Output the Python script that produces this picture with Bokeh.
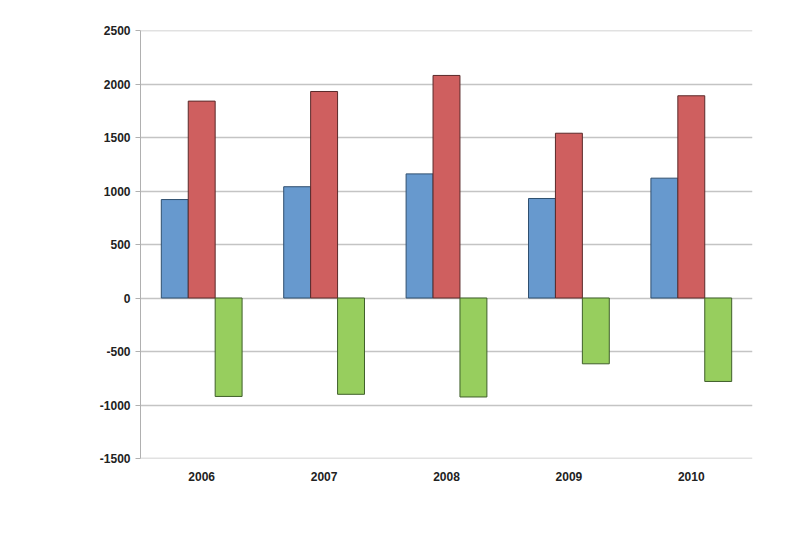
from bokeh.plotting import figure
from bokeh.models import ColumnDataSource, FactorRange, Range1d, FixedTicker, Span
from bokeh.transform import dodge
from bokeh.embed import file_html
from bokeh.resources import INLINE

years = ["2006", "2007", "2008", "2009", "2010"]
series_blue = [920, 1040, 1160, 930, 1120]
series_red = [1840, 1930, 2080, 1540, 1890]
series_green = [-920, -900, -925, -615, -780]
y_ticks = [-1500, -1000, -500, 0, 500, 1000, 1500, 2000, 2500]

src = ColumnDataSource(dict(year=years, blue=series_blue, red=series_red, green=series_green))

p = figure(x_range=FactorRange(*years), y_range=Range1d(-1500, 2500),
           width=792, height=542, output_backend="svg", toolbar_location=None,
           frame_width=612, frame_height=428,
           min_border_left=140, min_border_right=40, min_border_top=30, min_border_bottom=84)
p.outline_line_color = None
p.background_fill_color = "white"

for v in (y_ticks[0], y_ticks[-1]):
    p.add_layout(Span(location=v, dimension="width", line_color="#C4C4C4", line_width=1.5))

W = 0.22
p.vbar(x=dodge("year", -0.22, range=p.x_range), top="blue", bottom=0, width=W, source=src,
       fill_color="#6799CE", line_color="#2F4F6F", line_width=1)
p.vbar(x=dodge("year", 0.0, range=p.x_range), top="red", bottom=0, width=W, source=src,
       fill_color="#CF5F5F", line_color="#5A2A2A", line_width=1)
p.vbar(x=dodge("year", 0.22, range=p.x_range), top="green", bottom=0, width=W, source=src,
       fill_color="#97CE5E", line_color="#3F5F2A", line_width=1)

p.yaxis.ticker = FixedTicker(ticks=y_ticks)
p.yaxis.major_label_overrides = {t: str(t) for t in y_ticks}
p.yaxis.axis_line_color = "#B0B0B0"
p.yaxis.major_tick_line_color = "#B0B0B0"
p.yaxis.major_tick_out = 5
p.yaxis.major_tick_in = 0
p.yaxis.minor_tick_line_color = None
p.yaxis.major_label_text_font = "Liberation Sans"
p.yaxis.major_label_text_font_style = "bold"
p.yaxis.major_label_text_font_size = "12px"
p.yaxis.major_label_text_color = "#222222"
p.yaxis.major_label_standoff = 5

p.xaxis.axis_line_color = None
p.xaxis.major_tick_line_color = None
p.xaxis.major_label_text_font = "Liberation Sans"
p.xaxis.major_label_text_font_style = "bold"
p.xaxis.major_label_text_font_size = "12px"
p.xaxis.major_label_text_color = "#222222"
p.xaxis.major_label_standoff = 7

p.xgrid.grid_line_color = None
p.ygrid.grid_line_color = "#C4C4C4"
p.ygrid.grid_line_width = 1.5

open("out.html", "w").write(file_html(p, INLINE))
